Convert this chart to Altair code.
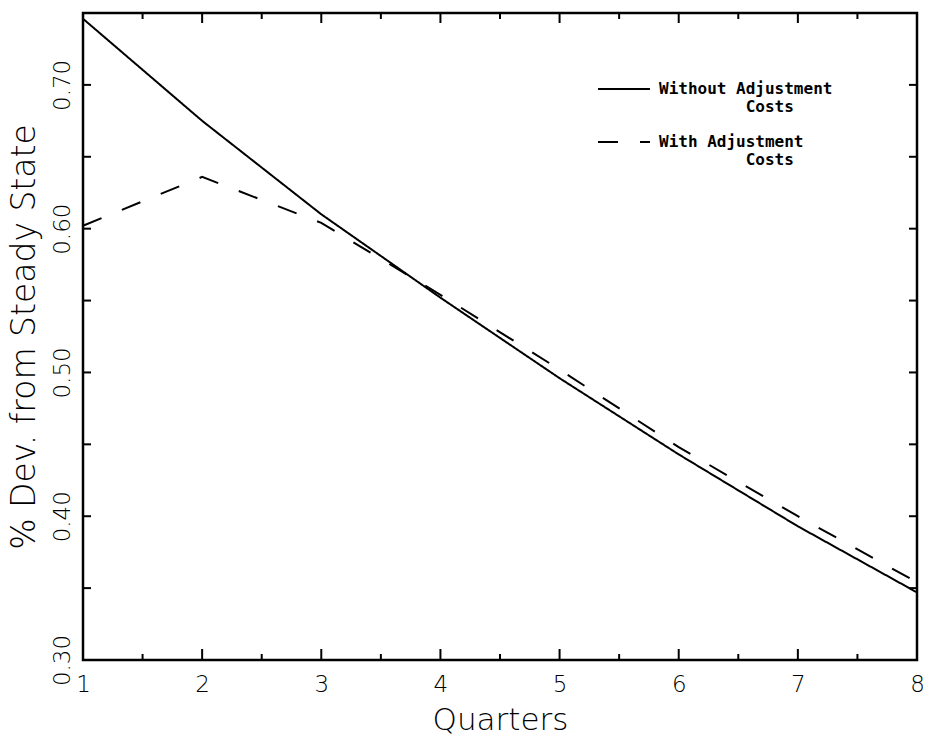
import altair as alt
import pandas as pd

# ---- data ----
quarters = [1, 2, 3, 4, 5, 6, 7, 8]
without_adj = [0.746, 0.675, 0.610, 0.552, 0.496, 0.443, 0.393, 0.347]
with_adj = [0.602, 0.636, 0.604, 0.554, 0.502, 0.448, 0.400, 0.354]
series_names = ["Without Adjustment Costs", "With Adjustment Costs"]

x_label_values = [1, 2, 3, 4, 5, 6, 7, 8]
x_major_ticks = [1, 2, 3, 4, 5, 6, 7, 8]
x_minor_ticks = [1.5, 2.5, 3.5, 4.5, 5.5, 6.5, 7.5]
y_label_values = [0.30, 0.40, 0.50, 0.60, 0.70]
y_ticks = [0.30, 0.35, 0.40, 0.45, 0.50, 0.55, 0.60, 0.65, 0.70, 0.75]

W, H = 834, 647
FONT = "DejaVu Sans"
MONO = "DejaVu Sans Mono"
INDENT = "\u200b" + "\u00a0" * 9

df = pd.DataFrame({
    "Quarter": quarters * 2,
    "Value": without_adj + with_adj,
    "Series": [series_names[0]] * len(quarters) + [series_names[1]] * len(quarters),
})

xscale = alt.Scale(domain=[1, 8], nice=False, zero=False)
yscale = alt.Scale(domain=[0.30, 0.75], nice=False, zero=False)

label_expr = (
    "datum.label == 'Without Adjustment Costs' ? "
    "['Without Adjustment', '" + INDENT + "Costs'] : "
    "['With Adjustment', '" + INDENT + "Costs']"
)

x_axis = alt.Axis(
    title="Quarters", values=x_label_values, format="d",
    ticks=False, domain=False, grid=False, labelFlush=False,
    labelFont=FONT, labelFontSize=23, labelFontWeight=200,
    labelColor="black", labelPadding=13,
    titleFont=FONT, titleFontSize=31, titleFontWeight=200,
    titleColor="black", titlePadding=9,
)
y_axis = alt.Axis(
    title="% Dev. from Steady State", values=y_label_values, format=".2f",
    ticks=False, domain=False, grid=False, labelFlush=False,
    labelAngle=270, labelAlign="center", labelBaseline="alphabetic",
    labelFont=FONT, labelFontSize=23, labelFontWeight=200,
    labelColor="black", labelPadding=14,
    titleFont=FONT, titleFontSize=33, titleFontWeight=200,
    titleColor="black", titlePadding=10,
)

lines = alt.Chart(df).mark_line(color="black", strokeWidth=2).encode(
    x=alt.X("Quarter:Q", scale=xscale, axis=x_axis),
    y=alt.Y("Value:Q", scale=yscale, axis=y_axis),
    strokeDash=alt.StrokeDash(
        "Series:N",
        scale=alt.Scale(domain=series_names, range=[[1, 0], [20, 22]]),
        legend=alt.Legend(
            title=None, orient="none", legendX=514, legendY=49,
            symbolType="stroke", symbolSize=2704, symbolStrokeWidth=2,
            symbolStrokeColor="black",
            labelFont=MONO, labelFontSize=16, labelFontWeight="bold",
            labelColor="black", labelBaseline="middle",
            labelExpr=label_expr, labelOffset=8, labelLimit=400, rowPadding=0,
        ),
    ),
)

# ---- inward tick marks (positions through the shared scales) ----
xmaj = pd.DataFrame({"Quarter": x_major_ticks})
xmin = pd.DataFrame({"Quarter": x_minor_ticks})
yt = pd.DataFrame({"Value": y_ticks})

def xtick(data, y0, y1):
    return alt.Chart(data).mark_rule(color="black", strokeWidth=2).encode(
        x=alt.X("Quarter:Q", scale=xscale, axis=x_axis),
        y=alt.value(y0), y2=alt.value(y1),
    )

def ytick(data, x0, x1):
    return alt.Chart(data).mark_rule(color="black", strokeWidth=2).encode(
        y=alt.Y("Value:Q", scale=yscale, axis=y_axis),
        x=alt.value(x0), x2=alt.value(x1),
    )

ticks = [
    xtick(xmaj, H, H - 11), xtick(xmin, H, H - 6),
    xtick(xmaj, 0, 10), xtick(xmin, 0, 6),
    ytick(yt, 0, 8), ytick(yt, W, W - 8),
]

chart = alt.layer(lines, *ticks).properties(
    width=W, height=H,
    padding={"left": 83, "top": 13, "right": 8, "bottom": 76},
    autosize=alt.AutoSizeParams(type="none"),
    background="white",
).configure_view(
    stroke="black", strokeWidth=2.5
)

chart.save("out.html", embed_options={"renderer": "svg", "actions": False})
